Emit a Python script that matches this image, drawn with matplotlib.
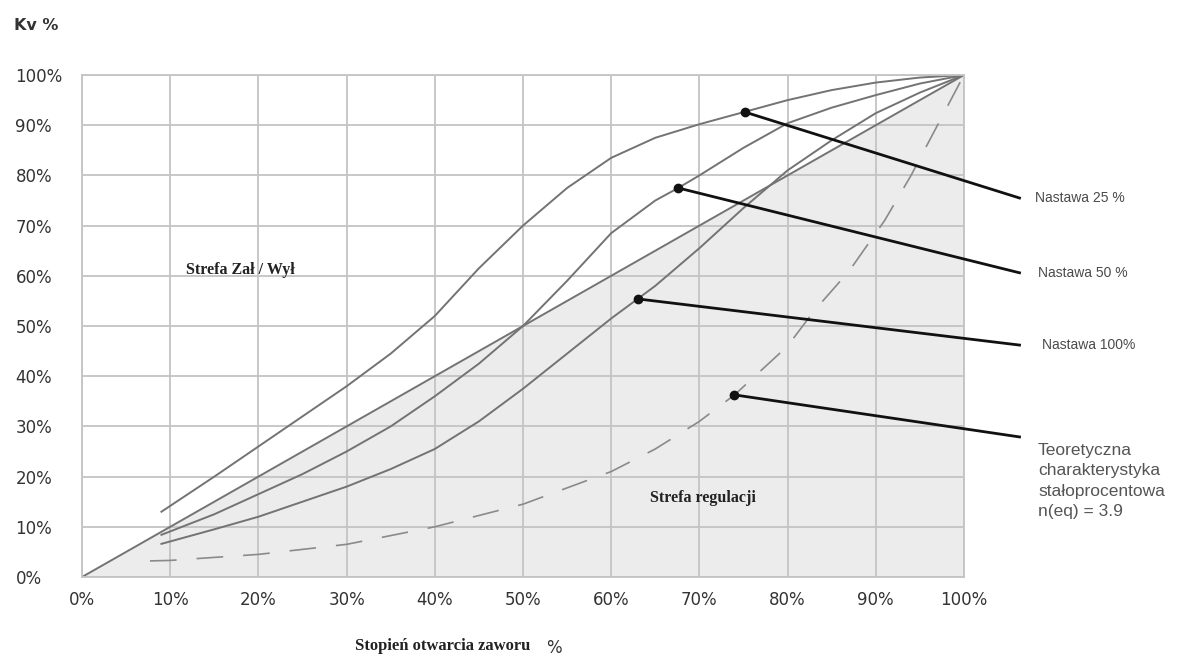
import matplotlib.pyplot as plt

# krzywe charakterystyki zaworu, % otwarcia -> Kv %
x25 = [9, 15, 20, 25, 30, 35, 40, 45, 50, 55, 60, 65, 70, 75, 80, 85, 90, 95, 100]
y25 = [13, 20, 26, 32, 38, 44.5, 52, 61.5, 70, 77.5, 83.5, 87.5, 90.2, 92.6, 95, 97, 98.5, 99.5, 100]

x50 = [9, 15, 20, 25, 30, 35, 40, 45, 50, 55, 60, 65, 67.6, 70, 75, 80, 85, 90, 95, 100]
y50 = [8.4, 12.5, 16.5, 20.5, 25, 30, 36, 42.5, 50, 59, 68.5, 75, 77.5, 80, 85.5, 90.4, 93.5, 96, 98.3, 100]

x100 = [9, 15, 20, 25, 30, 35, 40, 45, 50, 55, 60, 63, 65, 70, 75, 80, 85, 90, 95, 100]
y100 = [6.6, 9.5, 12, 15, 18, 21.5, 25.5, 31, 37.5, 44.5, 51.5, 55.4, 58, 65.5, 73.5, 81, 87, 92.4, 96.5, 100]

# liniowa
x_lin = [0, 100]
y_lin = [0, 100]

# teoretyczna stałoprocentowa n(eq) = 3.9
x_eq = [7.7, 10, 20, 30, 40, 50, 60, 65, 70, 74, 80, 83, 87, 91, 94, 97, 100]
y_eq = [3.2, 3.3, 4.5, 6.5, 10, 14.5, 21, 25.5, 31, 36.3, 46, 53, 61, 71, 80, 90, 100]

# opisy z odnośnikami: punkt na krzywej -> koniec linii przy etykiecie
labels = ['Nastawa 25 %', 'Nastawa 50 %', 'Nastawa 100%',
          'Teoretyczna\ncharakterystyka\nstałoprocentowa\nn(eq) = 3.9']
dot_x = [75.2, 67.6, 63, 73.9]
dot_y = [92.6, 77.5, 55.4, 36.3]
end_x = [106.3, 106.3, 106.3, 106.3]
end_y = [75.5, 60.6, 46.2, 27.9]

ticks = list(range(0, 101, 10))
tick_labels = ['%d%%' % t for t in ticks]

grid_c = '#c4c4c4'
curve_c = '#737373'

fig = plt.figure(figsize=(11.79, 6.57), dpi=100)
ax = fig.add_axes([0.0696, 0.1218, 0.748, 0.764])

ax.fill_between(x_lin, 0, y_lin, color='#ececec', zorder=0, linewidth=0)

ax.plot(x25, y25, color=curve_c, lw=1.4)
ax.plot(x50, y50, color=curve_c, lw=1.4)
ax.plot(x100, y100, color=curve_c, lw=1.4)
ax.plot(x_lin, y_lin, color=curve_c, lw=1.4)
ax.plot(x_eq, y_eq, color='#8a8a8a', lw=1.2, dashes=(16, 12))

for i in range(len(labels)):
    ax.plot([dot_x[i], end_x[i]], [dot_y[i], end_y[i]], color='#111111',
            lw=2, clip_on=False, zorder=5)
    ax.plot(dot_x[i], dot_y[i], 'o', color='#111111', ms=6, clip_on=False, zorder=6)

lab_x = [108.0, 108.4, 108.8, 108.4]
for i in range(3):
    ax.text(lab_x[i], end_y[i], labels[i], fontsize=10, color='#4a4a4a',
            family='Liberation Sans', va='center', ha='left')
ax.text(lab_x[3], end_y[3] - 1.2, labels[3], fontsize=12.5, color='#555555',
        family='Liberation Sans', va='top', ha='left', linespacing=1.45)

ax.text(11.8, 61.2, 'Strefa Zał / Wył', fontsize=11.5, fontweight='bold',
        family='Liberation Serif', color='#222222', va='center')
ax.text(64.4, 15.7, 'Strefa regulacji', fontsize=11.5, fontweight='bold',
        family='Liberation Serif', color='#222222', va='center')

ax.set_xlim(0, 100)
ax.set_ylim(0, 100)
ax.set_xticks(ticks)
ax.set_yticks(ticks)
ax.set_xticklabels(tick_labels, fontsize=12, color='#333333')
ax.set_yticklabels(tick_labels, fontsize=12, color='#333333', ha='left')
ax.tick_params(axis='both', length=0)
ax.tick_params(axis='y', pad=48)
ax.tick_params(axis='x', pad=10)
ax.grid(True, color=grid_c, lw=1.3)
for s in ax.spines.values():
    s.set_color(grid_c)
    s.set_linewidth(1.3)

fig.text(0.012, 1 - 25 / 657, 'Kv %', fontsize=11.5, fontweight='bold',
         color='#333333', va='center')
fig.text(355 / 1179, 1 - 646 / 657, 'Stopień otwarcia zaworu', fontsize=12,
         fontweight='bold', family='Liberation Serif', color='#222222', va='center')
fig.text(546 / 1179, 1 - 648 / 657, '%', fontsize=12, color='#333333', va='center')

fig.savefig('out.png', dpi=100)
